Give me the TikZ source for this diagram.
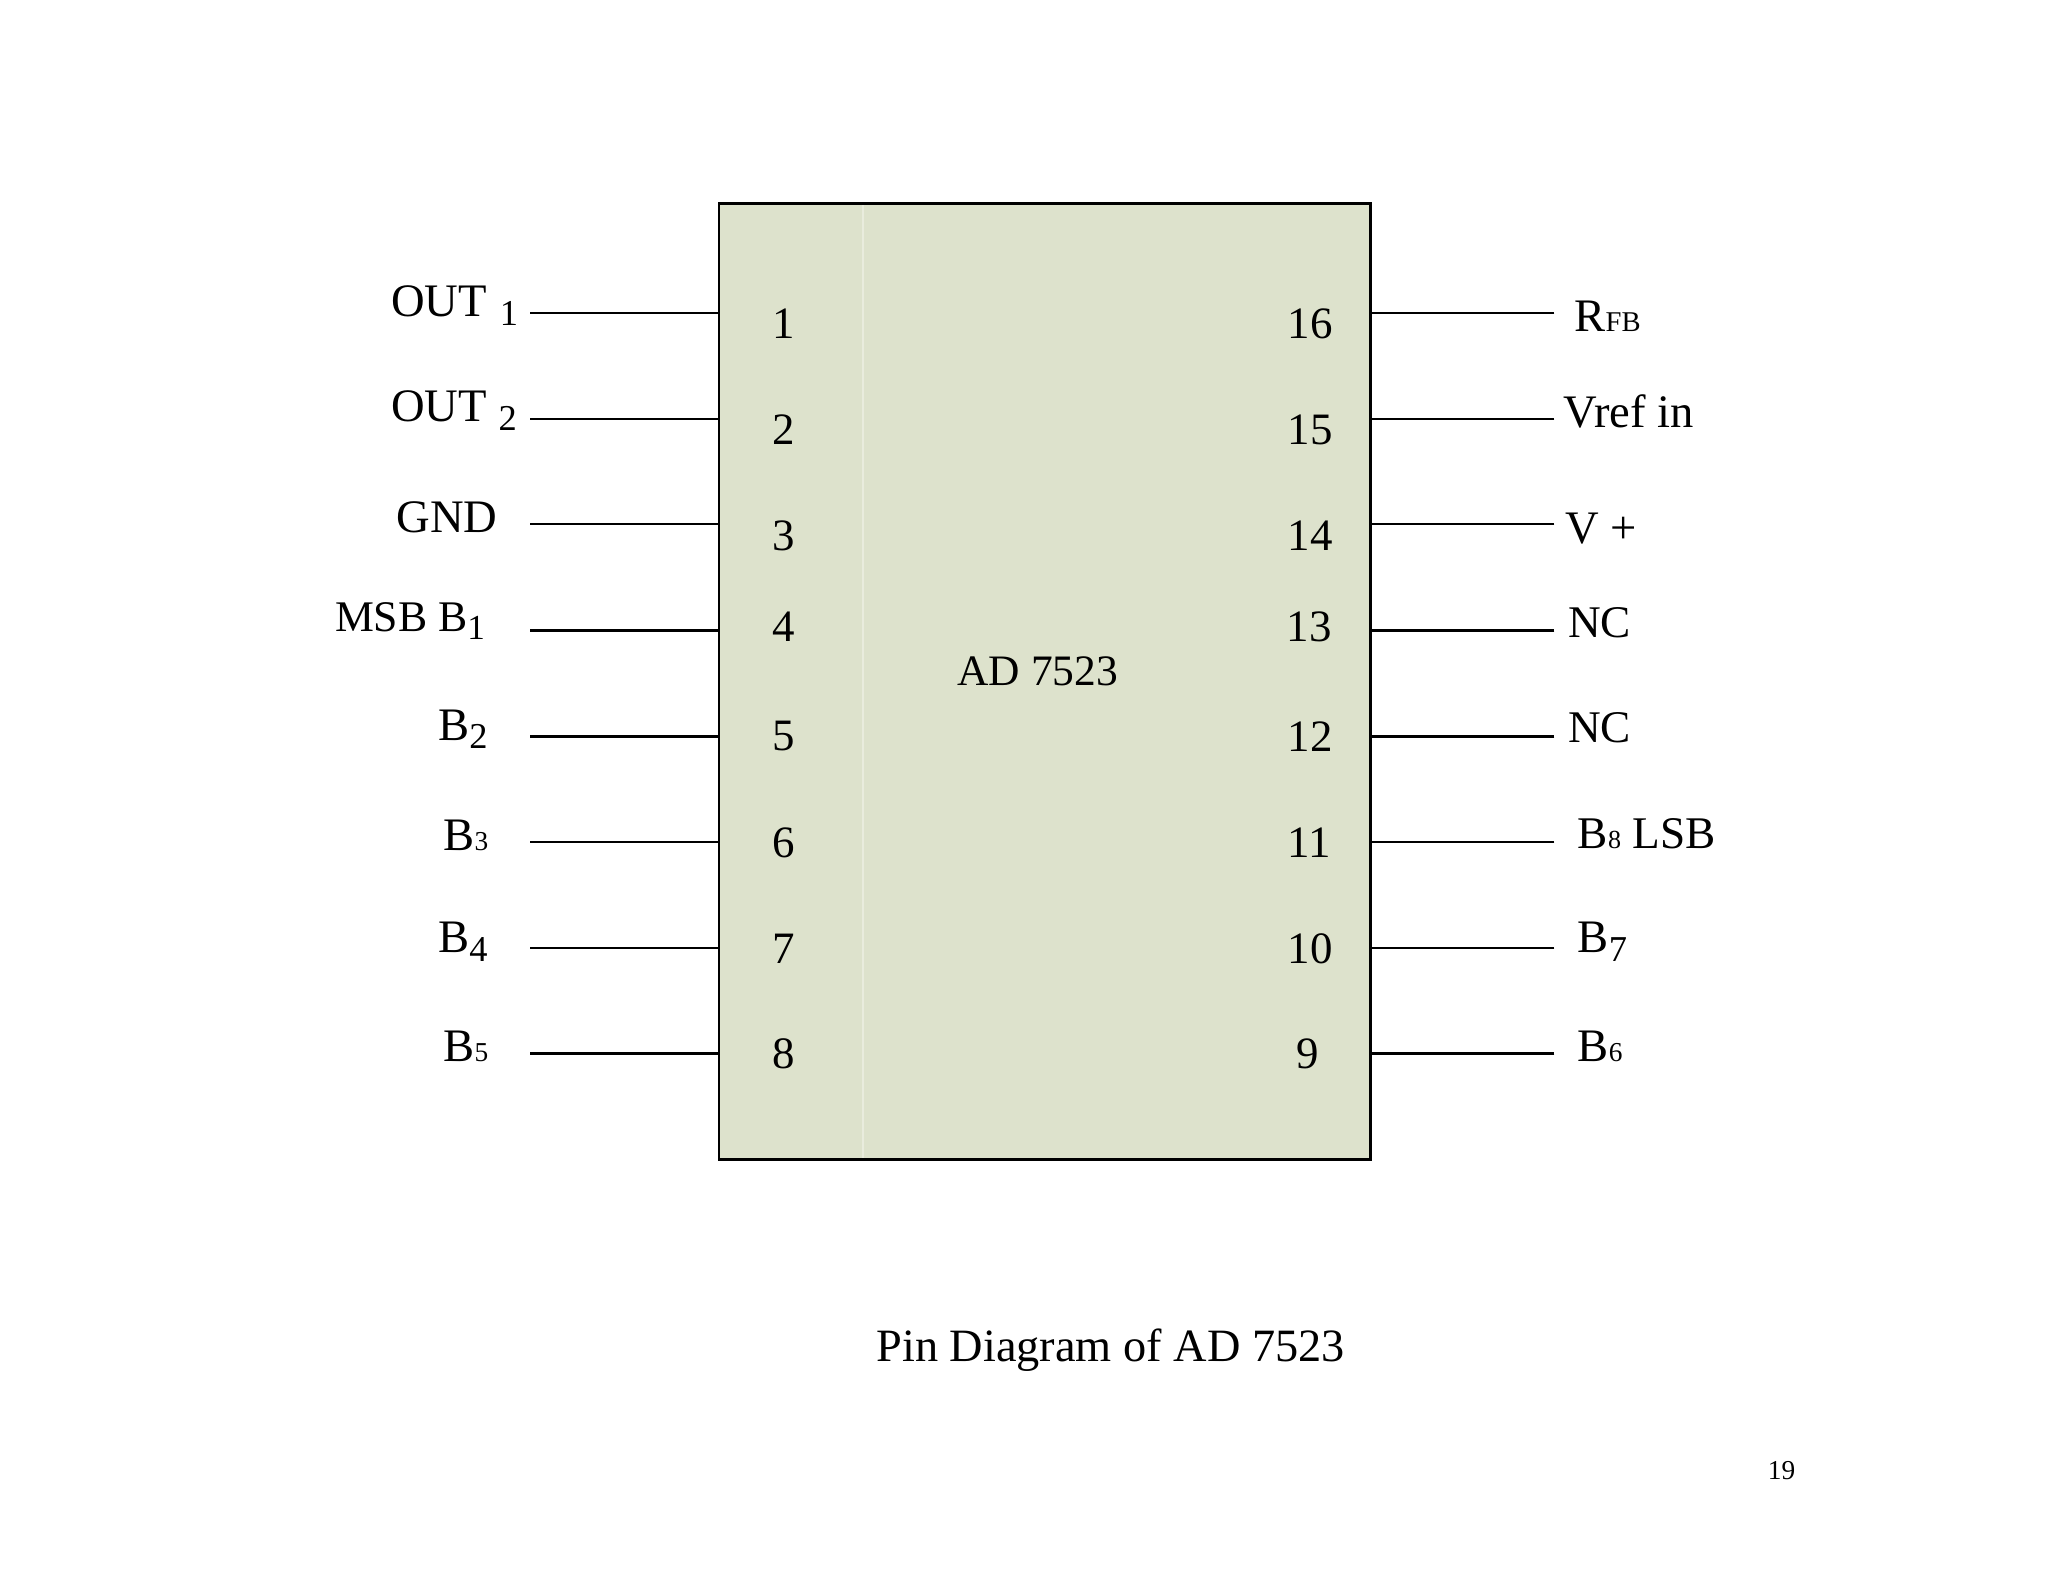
\documentclass[tikz,border=0pt]{standalone}
\usepackage{fontspec}
\setmainfont{Liberation Serif}
\definecolor{chipfill}{HTML}{DDE2CC}
\definecolor{chipseam}{HTML}{E9ECDD}
\newcommand{\fs}[1]{\fontsize{#1}{#1}\selectfont}
\newcommand{\sbs}[3]{\raisebox{-#2pt}{\fs{#1}#3}}
\tikzset{
  txt/.style={inner sep=0pt,outer sep=0pt,anchor=base west,font=\fs{35.8},text=black},
  pinlbl/.style={txt,font=\fs{34.8}},
  pinnum/.style={inner sep=0pt,outer sep=0pt,anchor=base,font=\fs{34.5},text=black,yshift=0.6bp},
  chip/.style={draw=black,line width=2.1bp,fill=chipfill,inner sep=0pt,outer sep=0pt,minimum width=499bp,minimum height=731.5bp},
  wire/.style={draw=black,line width=2.1bp},
  seam/.style={draw=chipseam,line width=1.2bp}
}
\begin{document}
\begin{tikzpicture}[x=1bp,y=-1bp]
\useasboundingbox (0,0) rectangle (1568,1211.3);
\node[chip] (ic) at (800,521.8) {};
\coordinate (seamtop) at (660.8,157);
\coordinate (seambot) at (660.8,886.5);
\draw[seam] (seamtop) -- (seambot);
% left pins
\foreach \n/\y in {1/239.7,2/320.7,3/401.2,4/482.5,5/563.7,6/644.7,7/725.7,8/806.7}{
  \coordinate (L\n) at (406,\y);
  \draw[wire] (L\n) -- (L\n -| ic.west);
}
% right pins
\foreach \n/\y in {16/239.7,15/320.7,14/401.2,13/482.5,12/563.7,11/644.7,10/725.7,9/806.7}{
  \coordinate (R\n) at (1190,\y);
  \draw[wire] (R\n) -- (R\n -| ic.east);
}
% pin numbers
\node[pinnum] (n1) at (600,259.5) {1};
\node[pinnum] (n2) at (600,341) {2};
\node[pinnum] (n3) at (600,422) {3};
\node[pinnum] (n4) at (600,492) {4};
\node[pinnum] (n5) at (600,575.5) {5};
\node[pinnum] (n6) at (600,657) {6};
\node[pinnum] (n7) at (600,738) {7};
\node[pinnum] (n8) at (600,819) {8};
\node[pinnum] (n16) at (1003,259.5) {16};
\node[pinnum] (n15) at (1003,341) {15};
\node[pinnum] (n14) at (1003,422) {14};
\node[pinnum] (n13) at (1002.5,492) {13};
\node[pinnum] (n12) at (1003,576) {12};
\node[pinnum] (n11) at (1002.5,657) {11};
\node[pinnum] (n10) at (1003,738) {10};
\node[pinnum] (n9) at (1001,818.5) {9};
% left labels
\node[txt] (t1) at (299.5,242) {OUT\hspace{10bp}\sbs{28}{7}{1}};
\node[txt] (t2) at (299.5,323) {OUT\hspace{9bp}\sbs{28}{7}{2}};
\node[txt] (t3) at (303.5,408) {GND};
\node[txt,font=\fs{33.6}] (t4) at (256.5,483.5) {MSB B\sbs{27}{6}{1}};
\node[txt] (t5) at (335.5,567) {B\sbs{28}{6}{2}};
\node[txt] (t6) at (339.5,651.5) {B\sbs{21}{0}{3}};
\node[txt] (t7) at (335.5,729) {B\sbs{28}{7}{4}};
\node[txt] (t8) at (339.5,813) {B\sbs{21}{0}{5}};
% right labels
\node[txt] (t16) at (1205.5,253.5) {R\sbs{22}{0}{FB}};
\node[txt] (t15) at (1197,327) {Vref in};
\node[txt] (t14) at (1198.5,416) {V +};
\node[pinlbl] (t13) at (1200.5,488) {NC};
\node[pinlbl] (t12) at (1200.5,568.5) {NC};
\node[txt,font=\fs{34.8}] (t11) at (1208,650) {B\sbs{20}{0}{8} LSB};
\node[txt] (t10) at (1208,729) {B\sbs{28}{7}{7}};
\node[txt] (t9) at (1208,813) {B\sbs{21}{0}{6}};
% centre and caption
\node[txt,font=\fs{33.4}] (name) at (733,525) {AD 7523};
\node[txt,font=\fs{35.6}] (caption) at (671,1042) {Pin Diagram of AD 7523};
\node[txt,font=\fs{21}] (page) at (1353.5,1133) {19};
\end{tikzpicture}
\end{document}
